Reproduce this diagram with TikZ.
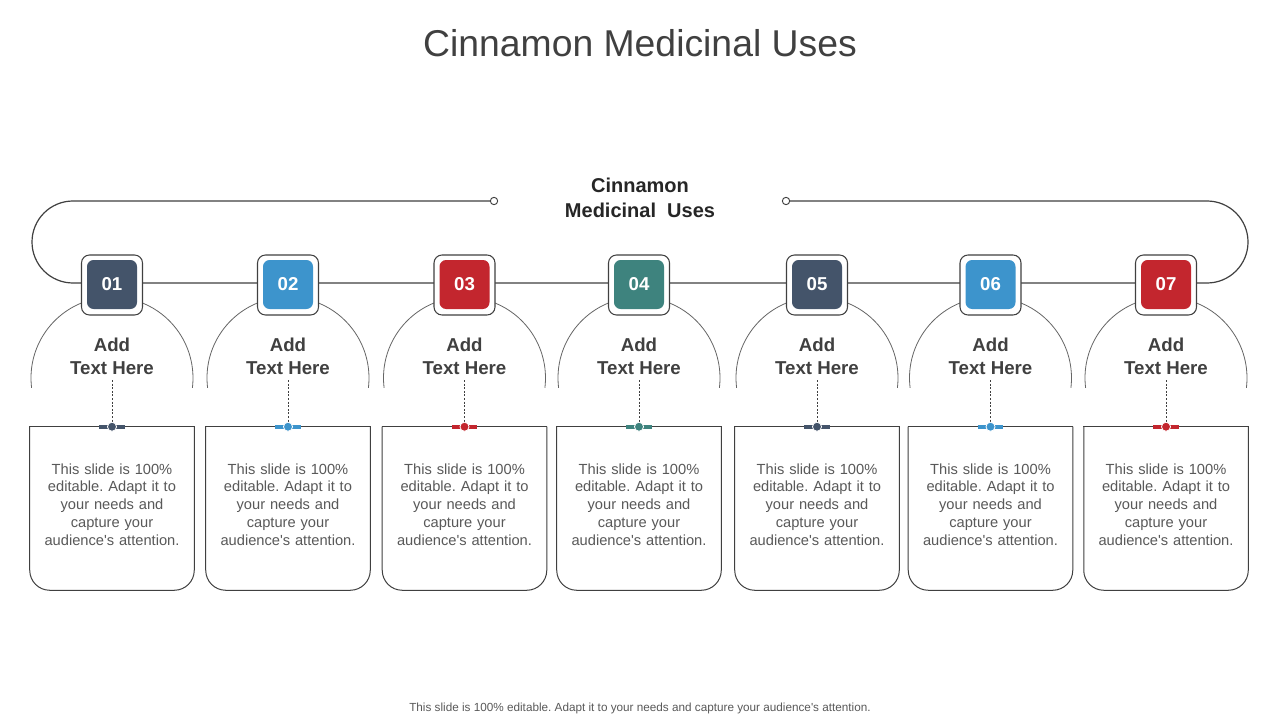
\documentclass[tikz,border=0pt]{standalone}
\usepackage{fontspec}
\setmainfont{Liberation Sans}
\definecolor{cA}{HTML}{44546A}
\definecolor{cB}{HTML}{3D94CC}
\definecolor{cC}{HTML}{C3262E}
\definecolor{cD}{HTML}{3E837E}
\definecolor{linec}{HTML}{404040}
\definecolor{txt}{HTML}{404040}
\definecolor{bodyc}{HTML}{595959}
\definecolor{domec}{HTML}{666666}
\frenchspacing
\begin{document}
\begin{tikzpicture}[x=0.75pt,y=-0.75pt,
  loopline/.style={draw=linec, line width=0.9pt},
  dome/.style={draw=domec, line width=0.6pt},
  outerbox/.style={draw=linec, fill=white, line width=0.8pt, rounded corners=6pt, minimum width=45.75pt, minimum height=45pt, inner sep=0pt},
  numbox/.style={rounded corners=5pt, minimum width=37.5pt, minimum height=36.75pt, inner sep=0pt, text=white, font=\fontsize{14}{16}\selectfont\bfseries},
  headtxt/.style={align=center, text=txt, font=\fontsize{14}{17.25}\selectfont\bfseries, inner sep=0pt},
  bodytxt/.style={align=center, text=bodyc, font=\fontsize{11}{13.35}\selectfont, inner sep=0pt, text width=115pt},
  frame/.style={minimum width=123pt, minimum height=122.25pt, inner sep=0pt},
  framebox/.style={draw=linec, line width=0.75pt},
  dotline/.style={draw=linec, line width=0.6pt, dash pattern=on 1.5pt off 1.2pt},
  endcirc/.style={circle, draw=linec, fill=white, line width=0.7pt, inner sep=0pt, minimum size=5.5pt},
]
\useasboundingbox (0,0) rectangle (1280,720);
\fill[white] (0,0) rectangle (1280,720);
\node[text=txt, font=\fontsize{28}{34}\selectfont] (title) at (640,43) {Cinnamon Medicinal Uses};
\node[align=center, text=black!85, font=\fontsize{15}{18.75}\selectfont\bfseries] (center) at (640,197.5) {Cinnamon\\Medicinal\ \ Uses};
\coordinate (la) at (494,201);
\coordinate (ra) at (786,201);
\draw[loopline] (la) -- (73,201) arc[start angle=270, end angle=90, radius=41] -- (1207,283) arc[start angle=90, end angle=-90, radius=41] -- (ra);
\node[endcirc] (ca) at (la) {};
\node[endcirc] (cb) at (ra) {};
\foreach \i/\cx/\col/\num in {1/112/cA/01, 2/288/cB/02, 3/464.5/cC/03, 4/639/cD/04, 5/817/cA/05, 6/990.5/cB/06, 7/1166/cC/07} {
  \draw[dome] (\cx-80.4,387.9) arc[start angle=173, end angle=367, radius=81];
  \node[outerbox] (o\i) at (\cx,285) {};
  \node[numbox, fill=\col] (n\i) at (\cx,284.5) {\num};
  \node[headtxt] (h\i) at (\cx,356.5) {Add\\Text Here};
  \node[frame] (f\i) at (\cx,508.5) {};
  \draw[framebox, rounded corners=15pt] (f\i.north west) -- (f\i.south west) -- (f\i.south east) -- (f\i.north east);
  \draw[framebox, line cap=rect] (f\i.north west) -- (f\i.north east);
  \node[bodytxt] (b\i) at (\cx,504.5) {This slide is 100\%\\editable. Adapt it to\\your needs and\\capture your\\audience\textquotesingle s attention.};
  \coordinate (d\i) at (\cx,380);
  \draw[dotline] (d\i) -- (f\i.north);
  \draw[line width=2.8pt, draw=\col] ([xshift=-9.5pt]f\i.north) -- ([xshift=9.5pt]f\i.north);
  \node[circle, fill=\col, draw=white, line width=0.6pt, minimum size=6.8pt, inner sep=0pt] (m\i) at (f\i.north) {};
}
\node[text=bodyc, font=\fontsize{8.8}{10}\selectfont] (foot) at (640,708.5) {This slide is 100\% editable. Adapt it to your needs and capture your audience\textquotesingle s attention.};
\end{tikzpicture}
\end{document}
